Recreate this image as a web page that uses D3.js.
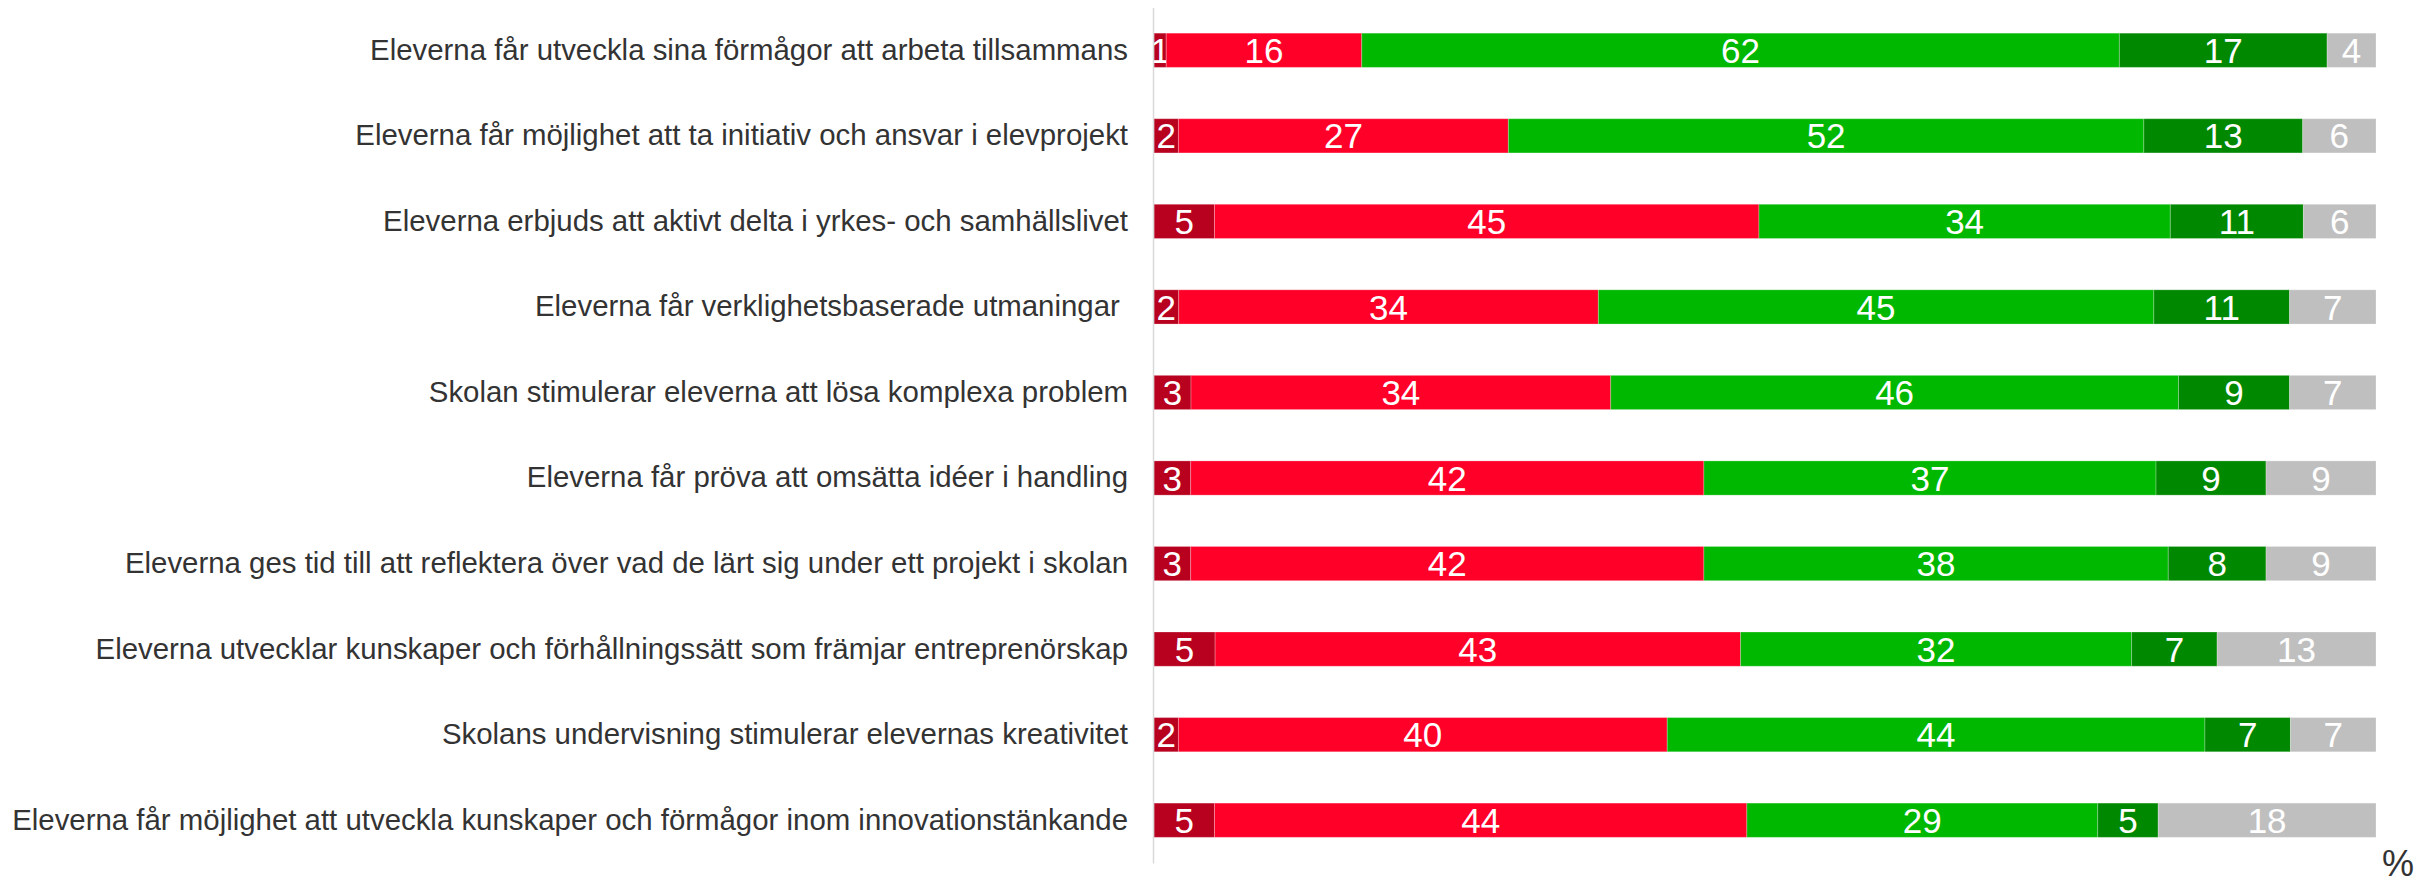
<!DOCTYPE html>
<html>
<head>
<meta charset="utf-8">
<script src="https://cdn.jsdelivr.net/npm/d3@7"></script>
<style>
  body { margin: 0; background: #fff; }
  svg { display: block; }
</style>
</head>
<body>
<div class="chart"></div>
<script>
const categories = [
  'Eleverna får utveckla sina förmågor att arbeta tillsammans',
  'Eleverna får möjlighet att ta initiativ och ansvar i elevprojekt',
  'Eleverna erbjuds att aktivt delta i yrkes- och samhällslivet',
  'Eleverna får verklighetsbaserade utmaningar ',
  'Skolan stimulerar eleverna att lösa komplexa problem',
  'Eleverna får pröva att omsätta idéer i handling',
  'Eleverna ges tid till att reflektera över vad de lärt sig under ett projekt i skolan',
  'Eleverna utvecklar kunskaper och förhållningssätt som främjar entreprenörskap',
  'Skolans undervisning stimulerar elevernas kreativitet',
  'Eleverna får möjlighet att utveckla kunskaper och förmågor inom innovationstänkande'
];

const seriesKeys = ['s1', 's2', 's3', 's4', 's5'];
const s1 = [1, 2, 5, 2, 3, 3, 3, 5, 2, 5];
const s2 = [16, 27, 45, 34, 34, 42, 42, 43, 40, 44];
const s3 = [62, 52, 34, 45, 46, 37, 38, 32, 44, 29];
const s4 = [17, 13, 11, 11, 9, 9, 8, 7, 7, 5];
const s5 = [4, 6, 6, 7, 7, 9, 9, 13, 7, 18];

const width = 2425,
  height = 885,
  axisX = 1154,
  rightX = 2376,
  labelColor = '#333333',
  fontFamily = '"Liberation Sans", Arial, sans-serif';

const colors = d3.scaleOrdinal()
  .domain(seriesKeys)
  .range(['#b8001f', '#ff0029', '#00b800', '#008800', '#bfbfbf']);

// one row object per category, for d3.stack
const rows = categories.map((c, i) => ({
  category: c, s1: s1[i], s2: s2[i], s3: s3[i], s4: s4[i], s5: s5[i]
}));

const stacked = d3.stack()
  .keys(seriesKeys)
  .offset(d3.stackOffsetExpand)(rows);

const svg = d3.select('.chart')
  .append('svg')
  .attr('width', width)
  .attr('height', height);

const xScale = d3.scaleLinear()
  .domain([0, 1])
  .range([axisX, rightX]);

const yScale = d3.scaleBand()
  .domain(categories)
  .range([7.5, 863])
  .paddingInner(0.6)
  .paddingOuter(0.3);

const layer = svg.selectAll('g.layer')
  .data(stacked)
  .enter()
  .append('g')
  .attr('class', 'layer')
  .attr('fill', d => colors(d.key));

layer.selectAll('rect')
  .data(d => d)
  .enter()
  .append('rect')
  .attr('x', d => xScale(d[0]))
  .attr('y', d => yScale(d.data.category))
  .attr('width', d => xScale(d[1]) - xScale(d[0]))
  .attr('height', yScale.bandwidth())
  .attr('stroke', 'rgba(255,255,255,0.25)')
  .attr('stroke-width', 1);

layer.selectAll('text')
  .data(d => d.map(p => ({ p: p, key: d.key })))
  .enter()
  .append('text')
  .attr('x', d => (xScale(d.p[0]) + xScale(d.p[1])) / 2)
  .attr('y', d => yScale(d.p.data.category) + yScale.bandwidth() / 2)
  .attr('dy', '0.36em')
  .attr('text-anchor', 'middle')
  .attr('fill', '#ffffff')
  .style('font', `35px ${fontFamily}`)
  .text(d => d.p.data[d.key]);

// category axis: light vertical line with the questions as tick labels
const yAxis = d3.axisLeft(yScale)
  .tickSize(0)
  .tickSizeOuter(0)
  .tickPadding(25);

const axisG = svg.append('g')
  .attr('transform', `translate(${axisX - 1}, 0)`)
  .call(yAxis);

axisG.select('.domain')
  .attr('stroke', '#d9d9d9')
  .attr('stroke-width', 1.5);

axisG.selectAll('text')
  .attr('fill', labelColor)
  .style('font', `29.4px ${fontFamily}`)
  .style('white-space', 'pre');

svg.append('text')
  .attr('x', 2398)
  .attr('y', 876)
  .attr('text-anchor', 'middle')
  .attr('fill', labelColor)
  .style('font', `36px ${fontFamily}`)
  .text('%');
</script>
</body>
</html>
